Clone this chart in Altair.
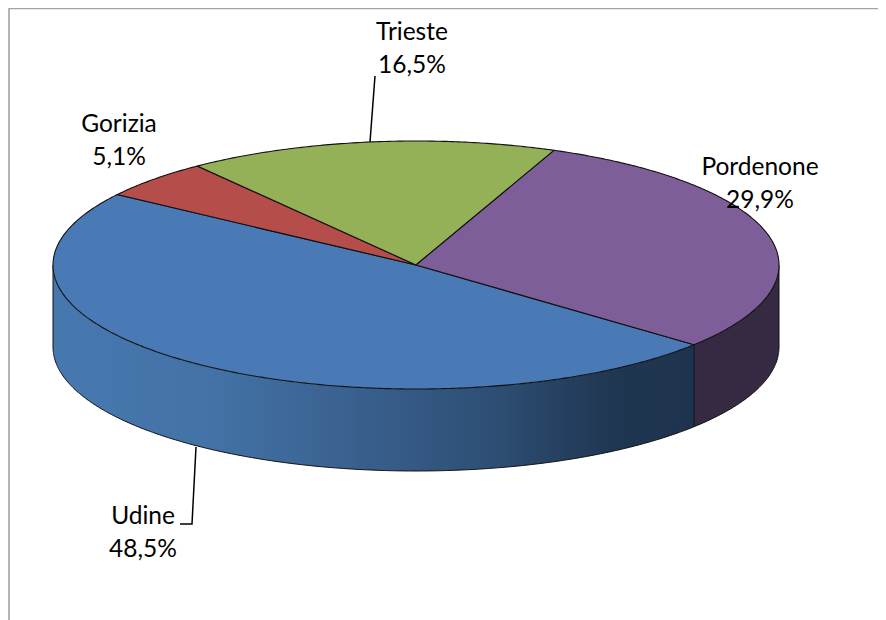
import math
import altair as alt
import pandas as pd

categories = ["Udine", "Gorizia", "Trieste", "Pordenone"]
shares = [48.5, 5.1, 16.5, 29.9]
top_colors = ["#4a7ab5", "#b54d4a", "#94b158", "#7d5e98"]
label_x = [135, 111, 404, 752]
label_y = [509, 117, 25, 160]

CX, CY, RX, RY, DEPTH, START = 408, 257, 363, 124, 82, 40
W, H = 870, 612
X = alt.X("x:Q", scale=alt.Scale(domain=[0, W], range=[0, W]), axis=None)
Y = alt.Y("y:Q", scale=alt.Scale(domain=[0, H], range=[0, H]), axis=None)


def rim(t0, t1):
    n = max(2, int(abs(t1 - t0)) * 2)
    return [(CX + RX * math.cos(math.radians(t0 + (t1 - t0) * i / n)),
             CY + RY * math.sin(math.radians(t0 + (t1 - t0) * i / n))) for i in range(n + 1)]


# running angles of each slice
angles, a = [], START
for s in shares:
    b = a + s * 3.6
    angles.append((a, b))
    a = b


def wall(t0, t1):
    pts = rim(t0, t1)
    return pd.DataFrame({"x": [p[0] for p in pts], "y": [p[1] for p in pts],
                         "y2": [p[1] + DEPTH for p in pts]}).sort_values("x")


def outline(pts, key):
    return [{"x": p[0], "y": p[1], "i": i, "k": key} for i, p in enumerate(pts)]


def line_of(rows, **kw):
    return alt.Chart(pd.DataFrame(rows)).mark_line(**kw).encode(x=X, y=Y, order="i:Q", detail="k:N")


# sides
blue_gradient = alt.Gradient(
    gradient="linear", x1=0, x2=1, y1=0, y2=0,
    stops=[alt.GradientStop(color="#4678b0", offset=0),
           alt.GradientStop(color="#4372a6", offset=0.25),
           alt.GradientStop(color="#3a6290", offset=0.45),
           alt.GradientStop(color="#2e4f75", offset=0.68),
           alt.GradientStop(color="#1f3651", offset=0.88),
           alt.GradientStop(color="#1e334e", offset=1)])

side_blue = alt.Chart(wall(angles[0][0], 180)).mark_area(color=blue_gradient).encode(x=X, y=Y, y2="y2:Q")
side_purple = alt.Chart(wall(0, angles[0][0])).mark_area(color="#352a42").encode(x=X, y=Y, y2="y2:Q")

edge_rows = []
edge_rows += outline([(CX + RX, CY), (CX + RX, CY + DEPTH)], "right")
edge_rows += outline([(CX - RX, CY), (CX - RX, CY + DEPTH)], "left")
edge_rows += outline([(CX + RX * math.cos(math.radians(START)), CY + RY * math.sin(math.radians(START))),
                      (CX + RX * math.cos(math.radians(START)), CY + RY * math.sin(math.radians(START)) + DEPTH)], "seam")
edge_rows += outline([(p[0], p[1] + DEPTH) for p in rim(0, 180)], "bottom")
edges = line_of(edge_rows, color="#111111", strokeWidth=1)

# top face slices
slice_rows = []
for name, (t0, t1) in zip(categories, angles):
    slice_rows += outline([(CX, CY)] + rim(t0, t1) + [(CX, CY)], name)
slices = alt.Chart(pd.DataFrame(slice_rows)).mark_line(color="#111111", strokeWidth=1.1).encode(
    x=X, y=Y, order="i:Q", detail="k:N",
    fill=alt.Fill("k:N", scale=alt.Scale(domain=categories, range=top_colors), legend=None),
)

# leader lines
leaders = line_of(
    outline([(367, 68), (362, 134)], "Trieste") + outline([(188, 439), (184, 516), (172, 516)], "Udine"),
    color="#000000", strokeWidth=1.5)

# frame: only top and left edges are in view
frame = line_of(outline([(1, H), (1, 0.5), (W, 0.5)], "frame"), color="#a3a3a3", strokeWidth=1.6)

# labels
label_rows = []
for name, s, lx, ly in zip(categories, shares, label_x, label_y):
    label_rows.append({"x": lx, "y": ly, "t": name})
    label_rows.append({"x": lx, "y": ly + 33, "t": f"{s:.1f}".replace(".", ",") + "%"})
labels = alt.Chart(pd.DataFrame(label_rows)).mark_text(
    font="Lato", fontSize=24.5, color="#000000", align="center", baseline="middle"
).encode(x=X, y=Y, text="t:N")

chart = alt.layer(frame, side_purple, side_blue, edges, slices, leaders, labels).properties(
    width=W, height=H, padding=0, autosize=alt.AutoSizeParams(type="none"), background="white"
).configure_view(stroke=None)

chart.save("out.html", embed_options={"renderer": "svg", "actions": False})
